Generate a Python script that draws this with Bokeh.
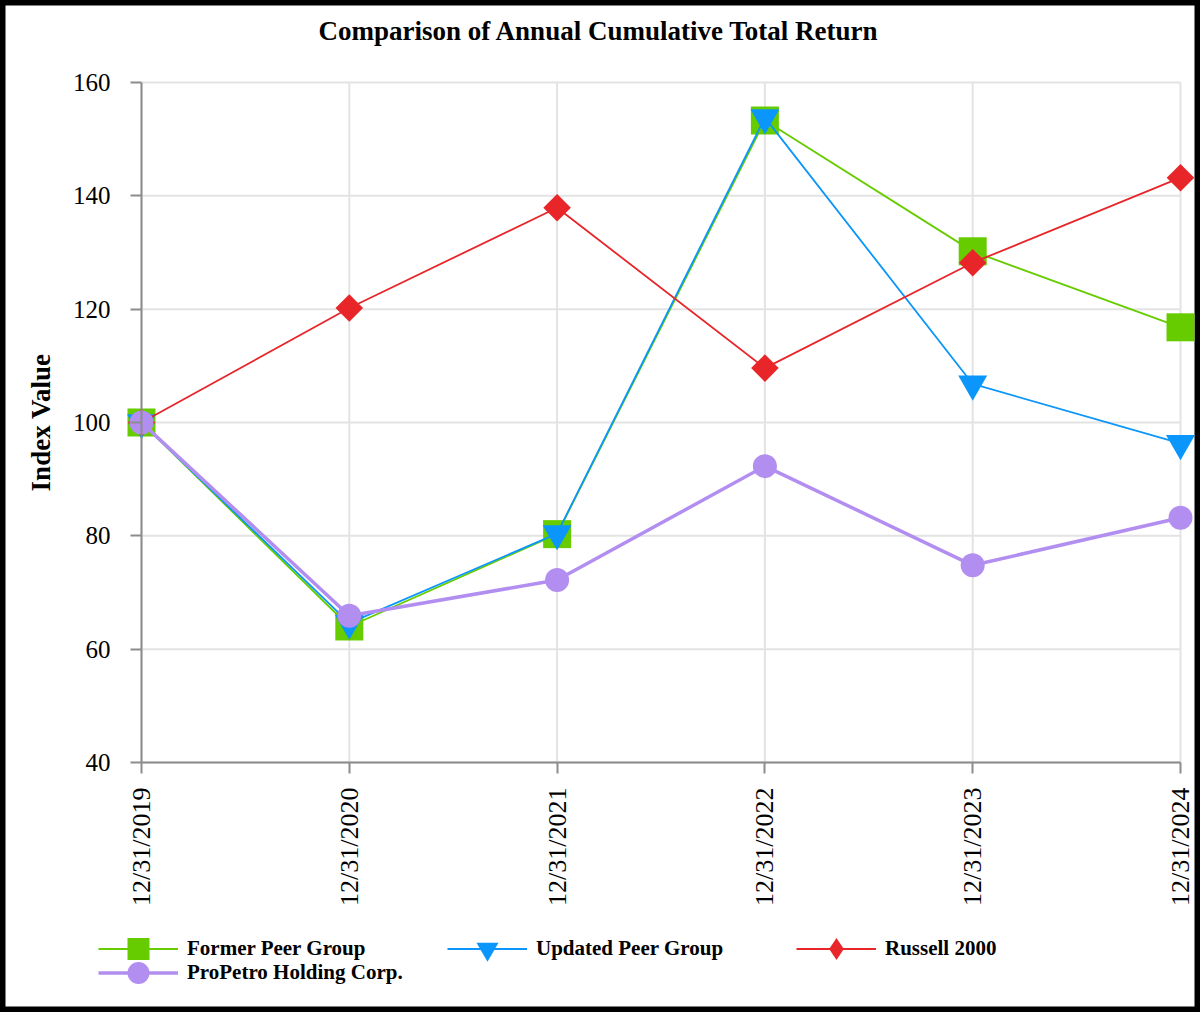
import math
from bokeh.plotting import figure
from bokeh.models import Legend, LegendItem, FixedTicker, ColumnDataSource, Range1d, Label
from bokeh.embed import file_html
from bokeh.resources import INLINE

dates = ["12/31/2019", "12/31/2020", "12/31/2021", "12/31/2022", "12/31/2023", "12/31/2024"]
former_peer = [100, 64.0, 80.3, 153.3, 130.2, 116.8]
updated_peer = [100, 64.6, 80.4, 153.8, 106.8, 96.3]
russell_2000 = [100, 120.2, 137.9, 109.6, 128.2, 143.2]
propetro = [100, 65.9, 72.2, 92.3, 74.8, 83.2]
y_ticks = [40, 60, 80, 100, 120, 140, 160]

xs = list(range(len(dates)))
x_first, x_last = xs[0], xs[-1]
y_min, y_max = y_ticks[0], y_ticks[-1]
src = ColumnDataSource(dict(x=xs, former=former_peer, updated=updated_peer,
                            russell=russell_2000, propetro=propetro))

FONT = "Liberation Serif"

# Layout (pixels): the frame fills the whole canvas; the data area sits inside it.
W, H = 1200, 1012
AREA_L, AREA_R, AREA_T, AREA_B = 141, 1180, 82, 762
sx = (AREA_R - AREA_L) / (x_last - x_first)
sy = (AREA_B - AREA_T) / (y_max - y_min)
x_range = Range1d(x_first - AREA_L / sx, x_last + (W - AREA_R) / sx)
y_range = Range1d(y_min - (H - AREA_B) / sy, y_max + AREA_T / sy)

p = figure(width=W, height=H, output_backend="svg", toolbar_location=None,
           x_range=x_range, y_range=y_range, title=None)
p.min_border = 0
p.min_border_left = 0
p.min_border_right = 0
p.min_border_top = 0
p.min_border_bottom = 0

# black border around the whole picture
p.outline_line_color = "black"
p.outline_line_width = 10
p.xgrid.visible = False
p.ygrid.visible = False

p.add_layout(Label(x=598.5, y=H - 30, x_units="screen", y_units="screen",
                   text="Comparison of Annual Cumulative Total Return",
                   text_align="center", text_baseline="middle",
                   text_font=FONT, text_font_size="27px", text_font_style="bold",
                   text_color="black"))

# grid lines limited to the data area
GRID = "#e3e3e3"
p.segment(x0=xs, y0=[y_min] * len(xs), x1=xs, y1=[y_max] * len(xs),
          line_color=GRID, line_width=2)
p.segment(x0=[x_first] * len(y_ticks), y0=y_ticks, x1=[x_last] * len(y_ticks), y1=y_ticks,
          line_color=GRID, line_width=2)

p.xaxis.ticker = FixedTicker(ticks=xs)
p.xaxis.bounds = (x_first, x_last)
p.xaxis.fixed_location = y_min
p.xaxis.major_label_overrides = {i: d for i, d in enumerate(dates)}
p.xaxis.major_label_orientation = math.pi / 2
p.yaxis.ticker = FixedTicker(ticks=y_ticks)
p.yaxis.bounds = (y_min, y_max)
p.yaxis.fixed_location = x_first

for ax in (p.xaxis[0], p.yaxis[0]):
    ax.axis_line_color = "#8c8c8c"
    ax.axis_line_width = 2
    ax.major_tick_line_color = "#8c8c8c"
    ax.major_tick_line_width = 2
    ax.major_tick_out = 11
    ax.major_tick_in = 0
    ax.minor_tick_line_color = None
    ax.major_label_text_font = FONT
    ax.major_label_text_color = "black"

p.yaxis.major_label_text_font_size = "25px"
p.yaxis.major_label_standoff = 20
p.xaxis.major_label_text_font_size = "26px"
p.xaxis.major_label_standoff = 14

p.yaxis.axis_label = "Index Value"
p.yaxis.axis_label_text_font = FONT
p.yaxis.axis_label_text_font_size = "27px"
p.yaxis.axis_label_text_font_style = "bold"
p.yaxis.axis_label_text_color = "black"
p.yaxis.axis_label_standoff = 14

GREEN = "#66cc00"
BLUE = "#0a96fa"
RED = "#e8262a"
PURPLE = "#b28ef0"

l1 = p.line("x", "former", source=src, line_color=GREEN, line_width=1.8)
m1 = p.scatter("x", "former", source=src, marker="square", size=28,
               fill_color=GREEN, line_color=None)
l2 = p.line("x", "updated", source=src, line_color=BLUE, line_width=1.8)
m2 = p.scatter("x", "updated", source=src, marker="inverted_triangle", size=29,
               fill_color=BLUE, line_color=None)
l3 = p.line("x", "russell", source=src, line_color=RED, line_width=1.8)
m3 = p.scatter("x", "russell", source=src, marker="square", angle=math.pi / 4, size=19.5,
               fill_color=RED, line_color=None)
m3_key = p.scatter("x", "russell", source=src, marker="diamond", size=22,
                   fill_color=RED, line_color=None, visible=False)
l4 = p.line("x", "propetro", source=src, line_color=PURPLE, line_width=3.5)
m4 = p.scatter("x", "propetro", source=src, marker="circle", size=24,
               fill_color=PURPLE, line_color=None)


def make_legend(items, loc):
    lg = Legend(items=items, orientation="horizontal", location=loc)
    lg.label_text_font = FONT
    lg.label_text_font_size = "21px"
    lg.label_text_font_style = "bold"
    lg.label_text_color = "black"
    lg.label_text_baseline = "middle"
    lg.glyph_width = 80
    lg.glyph_height = 55
    lg.label_height = 24
    lg.label_width = 260
    lg.spacing = 0
    lg.padding = 0
    lg.margin = 0
    lg.label_standoff = 9
    lg.border_line_color = None
    lg.background_fill_alpha = 0
    p.add_layout(lg, "center")


make_legend([LegendItem(label="Former Peer Group", renderers=[l1, m1]),
             LegendItem(label="Updated Peer Group", renderers=[l2, m2]),
             LegendItem(label="Russell 2000", renderers=[l3, m3_key])], (98, 36))
make_legend([LegendItem(label="ProPetro Holding Corp.", renderers=[l4, m4])], (98, 12))

open("out.html", "w").write(file_html(p, INLINE))
